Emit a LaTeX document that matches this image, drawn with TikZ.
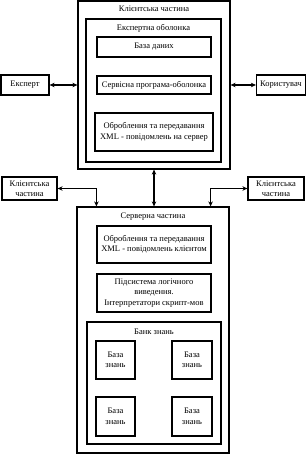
\documentclass[tikz,border=0pt]{standalone}
\usepackage{fontspec}
\setmainfont{Liberation Serif}
\usetikzlibrary{arrows.meta}
\begin{document}
\begin{tikzpicture}[x=1pt,y=-1pt,
  box/.style={draw,line width=1.2pt,inner sep=0pt,align=center,font=\fontsize{8.5}{10.5}\selectfont},
  lbl/.style={inner sep=0pt,font=\fontsize{8.5}{10.5}\selectfont},
  conn/.style={line width=1.1pt,{Stealth[length=5pt,width=4.5pt]}-{Stealth[length=5pt,width=4.5pt]}}]
\useasboundingbox (0,0) rectangle (306,454);
% client part
\node[box,minimum width=152pt,minimum height=168pt] (client) at (154,85) {};
\node[lbl] (clientt) at (154,9) {Клієнтська частина};
\node[box,minimum width=135pt,minimum height=143pt] (shell) at (153.5,90.5) {};
\node[lbl] (shellt) at (153.5,28) {Експертна оболонка};
\node[box,minimum width=114pt,minimum height=20pt] (db) at (154,47) {База даних};
\node[box,minimum width=114pt,minimum height=18pt] (svc) at (154,85) {Сервісна програма-оболонка};
\node[box,minimum width=118pt,minimum height=38pt] (xmlc) at (154,132) {Оброблення та передавання\\XML - повідомлень на сервер};
\node[box,minimum width=48pt,minimum height=20pt] (exp) at (25,85) {Експерт};
\node[box,minimum width=49pt,minimum height=20pt] (user) at (281,85) {Користувач};
% other clients
\node[box,minimum width=55pt,minimum height=23pt] (lc) at (29.5,188.5) {Клієнтська\\частина};
\node[box,minimum width=56pt,minimum height=23pt] (rc) at (276,188.5) {Клієнтська\\частина};
% server part
\node[box,minimum width=152pt,minimum height=246pt] (server) at (153,330) {};
\node[lbl] (servert) at (153,217) {Серверна частина};
\node[box,minimum width=114pt,minimum height=37pt] (xmls) at (154,244.5) {Оброблення та передавання\\XML - повідомлень клієнтом};
\node[box,minimum width=114pt,minimum height=38pt] (infer) at (154,293) {Підсистема логічного\\виведення.\\Інтерпретатори скрипт-мов};
\node[box,minimum width=134pt,minimum height=122pt] (bank) at (154,383) {};
\node[lbl] (bankt) at (154,332) {Банк знань};
\node[box,minimum width=39pt,minimum height=38pt] (kb1) at (115.5,360) {База\\знань};
\node[box,minimum width=40pt,minimum height=38pt] (kb2) at (192,360) {База\\знань};
\node[box,minimum width=39pt,minimum height=39pt] (kb3) at (115.5,416.5) {База\\знань};
\node[box,minimum width=40pt,minimum height=39pt] (kb4) at (192,416.5) {База\\знань};
% connectors
\draw[conn] (exp.east) -- (client.west);
\draw[conn] (client.east) -- (user.west);
\draw[conn] (client.south) -- (client.south |- server.north);
\draw[conn] (lc.east) -| ([xshift=20pt]server.north west);
\draw[conn] (rc.west) -| ([xshift=-19pt]server.north east);
\end{tikzpicture}
\end{document}
